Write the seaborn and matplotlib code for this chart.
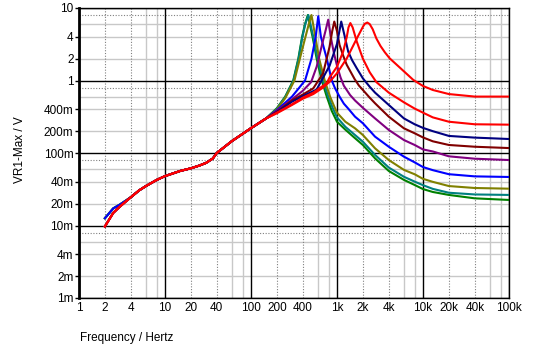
import matplotlib
matplotlib.use("Agg")
import matplotlib.pyplot as plt
import numpy as np
import pandas as pd
import seaborn as sns
from matplotlib.ticker import FixedLocator, FixedFormatter, NullLocator

# ---------------- data ----------------
start_f = [2, 2.5, 3]
start_v_low = [0.0097, 0.0149, 0.0183]
start_v_high = [0.0126, 0.0172, 0.0195]
high_start_series = ["green", "teal", "olive", "blue"]

low_f = [4, 5, 6, 8, 10, 15, 20, 25, 30, 36, 40, 60, 100, 150]
low_v = [0.0245, 0.0305, 0.035, 0.0425, 0.048, 0.0565, 0.0615, 0.067, 0.073, 0.084, 0.1, 0.146, 0.22, 0.30]

green_f = [200, 250, 310, 355, 393, 425, 458, 520, 580, 665, 760, 870, 1000, 1250, 1620, 2000, 2770, 4000, 6000, 8000, 10000, 13000, 20000, 40000, 100000]
green_v = [0.414, 0.6, 1.0, 2.0, 4.0, 6.0, 8.0, 4.0, 2.0, 1.0, 0.6, 0.38, 0.27, 0.21, 0.16, 0.129, 0.0843, 0.0565, 0.0426, 0.0362, 0.0318, 0.029, 0.0264, 0.0237, 0.0225]

teal_f = [200, 250, 312, 358, 396, 428, 465, 525, 590, 680, 780, 890, 1000, 1250, 1620, 2000, 2770, 4000, 6000, 8000, 10000, 13000, 20000, 40000, 100000]
teal_v = [0.41, 0.59, 1.0, 2.0, 4.0, 6.0, 8.0, 4.2, 2.1, 1.05, 0.63, 0.42, 0.31, 0.23, 0.177, 0.143, 0.094, 0.063, 0.047, 0.0403, 0.036, 0.032, 0.0283, 0.0268, 0.0264]

olive_f = [200, 250, 320, 370, 420, 470, 505, 560, 620, 720, 830, 920, 1000, 1250, 1620, 2000, 2770, 4000, 6000, 8000, 10000, 13000, 20000, 40000, 100000]
olive_v = [0.40, 0.57, 1.0, 2.0, 3.6, 6.0, 8.0, 4.0, 2.0, 1.0, 0.6, 0.45, 0.36, 0.27, 0.219, 0.177, 0.116, 0.08, 0.0585, 0.0509, 0.044, 0.040, 0.035, 0.0329, 0.0322]

blue_f = [200, 300, 425, 505, 565, 605, 650, 760, 870, 950, 1070, 1200, 1350, 1620, 2000, 2770, 4000, 6000, 8000, 10000, 13000, 20000, 40000, 100000]
blue_v = [0.39, 0.6, 1.0, 2.0, 4.0, 7.7, 4.0, 2.0, 1.0, 0.78, 0.6, 0.48, 0.41, 0.317, 0.257, 0.168, 0.122, 0.089, 0.0743, 0.064, 0.058, 0.051, 0.0476, 0.0467]

purple_f = [200, 300, 400, 500, 580, 690, 740, 790, 860, 920, 1000, 1100, 1200, 1420, 1620, 2000, 2770, 4000, 6000, 8000, 10000, 13000, 20000, 40000, 100000]
purple_v = [0.38, 0.55, 0.72, 0.95, 1.55, 3.6, 5.0, 6.9, 3.6, 2.4, 1.6, 1.1, 0.85, 0.63, 0.53, 0.42, 0.30, 0.208, 0.151, 0.129, 0.112, 0.105, 0.09, 0.0834, 0.080]

maroon_f = [200, 300, 400, 530, 690, 820, 880, 930, 1000, 1070, 1180, 1300, 1600, 1800, 2000, 2400, 2770, 4000, 6000, 8000, 10000, 13000, 20000, 40000, 100000]
maroon_v = [0.37, 0.53, 0.64, 0.78, 1.26, 2.93, 4.8, 6.5, 4.8, 3.1, 2.2, 1.64, 1.05, 0.85, 0.74, 0.58, 0.485, 0.317, 0.219, 0.187, 0.164, 0.145, 0.129, 0.122, 0.117]

navy_f = [200, 300, 400, 580, 820, 1000, 1120, 1200, 1350, 1500, 1700, 2000, 2400, 2770, 4000, 6000, 8000, 10000, 13000, 20000, 40000, 100000]
navy_v = [0.365, 0.51, 0.61, 0.75, 1.6, 3.2, 6.5, 4.6, 2.5, 1.9, 1.47, 1.07, 0.82, 0.68, 0.46, 0.30, 0.249, 0.222, 0.2, 0.172, 0.163, 0.156]

red2_f = [200, 300, 400, 530, 760, 820, 1000, 1180, 1300, 1360, 1430, 1520, 1700, 2000, 2400, 2870, 4000, 6000, 8000, 10000, 13000, 20000, 40000, 100000]
red2_v = [0.36, 0.47, 0.58, 0.68, 0.92, 1.1, 1.55, 2.5, 4.0, 5.4, 6.2, 5.4, 3.43, 2.0, 1.3, 0.95, 0.68, 0.5, 0.41, 0.36, 0.31, 0.27, 0.249, 0.246]

red1_f = [200, 300, 400, 530, 690, 820, 1000, 1300, 1700, 2000, 2100, 2250, 2400, 2600, 2870, 3200, 3600, 4100, 5400, 7700, 10000, 13000, 20000, 40000, 100000]
red1_v = [0.353, 0.46, 0.56, 0.65, 0.8, 0.96, 1.26, 2.02, 3.8, 5.5, 6.05, 6.3, 6.0, 5.1, 3.8, 3.0, 2.45, 2.02, 1.5, 1.02, 0.84, 0.74, 0.65, 0.60, 0.60]

series_names = ["green", "teal", "olive", "blue", "purple", "maroon", "navy", "red2", "red1"]
series_colors = ["#008000", "#008080", "#808000", "#0000FF", "#800080", "#800000", "#000080", "#FF0000", "#FF0000"]

x_tick_vals = [1, 2, 4, 10, 20, 40, 100, 200, 400, 1e3, 2e3, 4e3, 1e4, 2e4, 4e4, 1e5]
x_tick_labels = ["1", "2", "4", "10", "20", "40", "100", "200", "400", "1k", "2k", "4k", "10k", "20k", "40k", "100k"]
y_tick_vals = [1e-3, 2e-3, 4e-3, 1e-2, 2e-2, 4e-2, 0.1, 0.2, 0.4, 1, 2, 4, 10]
y_tick_labels = ["1m", "2m", "4m", "10m", "20m", "40m", "100m", "200m", "400m", "1", "2", "4", "10"]

# ---------------- build long table ----------------
upper = {
    "green": (green_f, green_v), "teal": (teal_f, teal_v), "olive": (olive_f, olive_v),
    "blue": (blue_f, blue_v), "purple": (purple_f, purple_v), "maroon": (maroon_f, maroon_v),
    "navy": (navy_f, navy_v), "red2": (red2_f, red2_v), "red1": (red1_f, red1_v),
}
rows = []
for name in series_names:
    sv = start_v_high if name in high_start_series else start_v_low
    fs = start_f + low_f + upper[name][0]
    vs = sv + low_v + upper[name][1]
    for i, (f, v) in enumerate(zip(fs, vs)):
        rows.append({"series": name, "idx": i, "f": f, "v": v})
df = pd.DataFrame(rows)

# ---------------- figure ----------------
W, H = 551, 362
fig = plt.figure(figsize=(W / 100, H / 100), dpi=100)
fig.patch.set_facecolor("white")
L, R, T, B = 79, 509, 8, 298
ax = fig.add_axes([L / W, 1 - B / H, (R - L) / W, (B - T) / H])
ax.set_xscale("log")
ax.set_yscale("log")
ax.set_xlim(1, 1e5)
ax.set_ylim(1e-3, 10)

# grid lines
for d in range(0, 5):
    base = 10 ** d
    for m, style in [(2, "dot"), (4, "dot"), (6, "solid"), (8, "solid")]:
        xv = base * m
        if style == "dot":
            ax.axvline(xv, color="#808080", lw=0.8, ls=(0, (1, 1.5)), zorder=0.5)
        else:
            ax.axvline(xv, color="#C8C8C8", lw=1.0, zorder=0.4)
for d in range(-3, 1):
    base = 10.0 ** d
    for m, style in [(2, "solid"), (4, "solid"), (6, "solid"), (8, "dot")]:
        yv = base * m
        if style == "dot":
            ax.axhline(yv, color="#808080", lw=0.8, ls=(0, (1, 1.5)), zorder=0.5)
        else:
            ax.axhline(yv, color="#C8C8C8", lw=1.0, zorder=0.4)
for d in range(0, 6):
    ax.axvline(10 ** d, color="black", lw=1.0, zorder=0.6)
for d in range(-3, 2):
    ax.axhline(10.0 ** d, color="black", lw=1.0, zorder=0.6)

sns.lineplot(data=df, x="f", y="v", hue="series", hue_order=series_names,
             palette=series_colors, units="series", estimator=None, sort=False,
             legend=False, linewidth=1.5, ax=ax, zorder=3)

ax.set_xlim(1, 1e5)
ax.set_ylim(1e-3, 10)
ax.set_xlabel("")
ax.set_ylabel("")

font = "Liberation Sans"
fs_t = 8.5
ax.xaxis.set_major_locator(FixedLocator(x_tick_vals))
ax.xaxis.set_major_formatter(FixedFormatter(x_tick_labels))
ax.xaxis.set_minor_locator(NullLocator())
ax.yaxis.set_major_locator(FixedLocator(y_tick_vals))
ax.yaxis.set_major_formatter(FixedFormatter(y_tick_labels))
ax.yaxis.set_minor_locator(NullLocator())
ax.tick_params(axis="x", length=0, pad=3, labelsize=fs_t)
ax.tick_params(axis="y", length=3, width=1, pad=1, labelsize=fs_t, color="black")
for lab in ax.get_xticklabels() + ax.get_yticklabels():
    lab.set_fontfamily(font)
    lab.set_color("black")

for s in ["top", "right", "bottom"]:
    ax.spines[s].set_color("black")
    ax.spines[s].set_linewidth(1.0)
ax.spines["left"].set_linewidth(2.0)
ax.spines["left"].set_color("black")

fig.text(80 / W, 1 - 338 / H, "Frequency / Hertz", ha="left", va="center",
         fontsize=fs_t, family=font, color="black")
fig.text(20 / W, 1 - 150 / H, "VR1-Max / V", ha="center", va="center",
         rotation=90, fontsize=fs_t, family=font, color="black")

fig.savefig("out.png", dpi=100, facecolor="white")
